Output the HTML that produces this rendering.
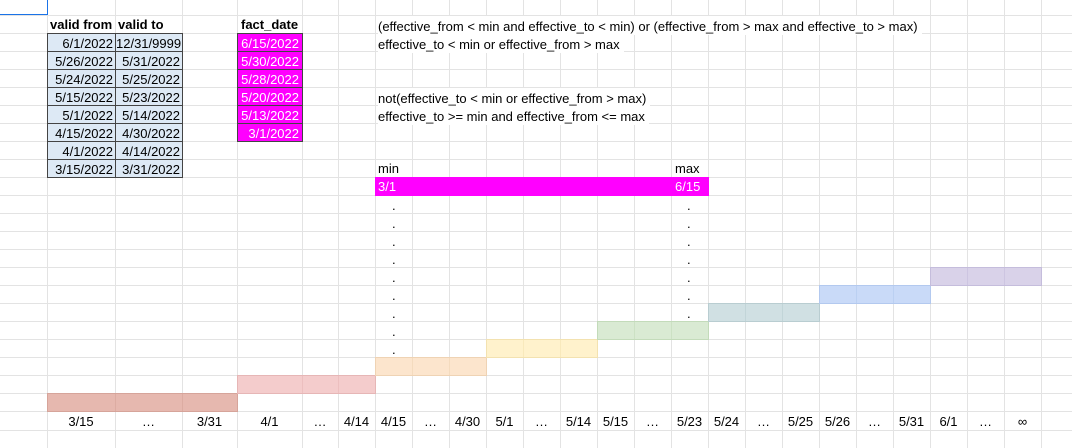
<!DOCTYPE html>
<html><head><meta charset="utf-8"><style>
html,body{margin:0;padding:0;background:#fff;}
#wrap{position:relative;width:1072px;height:448px;overflow:hidden;font-family:"Liberation Sans",sans-serif;font-size:13px;color:#000;}
.gl{position:absolute;background:#e3e3e3;}
.cell{position:absolute;box-sizing:border-box;line-height:18px;white-space:nowrap;}
.txt{position:absolute;line-height:20px;white-space:nowrap;}
</style></head><body>
<div id="wrap"></div>
<script>
const colEdges=[0,47,115,182,237,302,338,375,412,449,486,523,560,597,634,671,708,745,782,819,856,893,930,967,1004,1041,1078];
const tickLabels=["","3/15","…","3/31","4/1","…","4/14","4/15","…","4/30","5/1","…","5/14","5/15","…","5/23","5/24","…","5/25","5/26","…","5/31","6/1","…","∞"];
const barFrom=["3/15","4/1","4/15","5/1","5/15","5/24","5/26","6/1"];
const barTo=["3/31","4/14","4/30","5/14","5/23","5/25","5/31","∞"];
const barColors=["#e6b8af","#f4cccc","#fce5cd","#fff2cc","#d9ead3","#d0e0e3","#c9daf8","#d9d2e9"];
const barBorders=["#d6a49a","#e6b6b6","#efd3b4","#f3e2b0","#c3dbba","#b9cdd1","#b3c9ef","#c5bddc"];
const validFrom=["6/1/2022","5/26/2022","5/24/2022","5/15/2022","5/1/2022","4/15/2022","4/1/2022","3/15/2022"];
const validTo=["12/31/9999","5/31/2022","5/25/2022","5/23/2022","5/14/2022","4/30/2022","4/14/2022","3/31/2022"];
const factDates=["6/15/2022","5/30/2022","5/28/2022","5/20/2022","5/13/2022","3/1/2022"];
const W=document.getElementById('wrap');
function rowTop(k){return k===0?0:(k<=23?15+18*(k-1):(k===24?430:448));}
function colX(i){return colEdges[i];}
function xOf(label){return tickLabels.indexOf(label);}
function add(cls,st,txt){const d=document.createElement('div');d.className=cls;Object.assign(d.style,st);if(txt!==undefined)d.textContent=txt;W.appendChild(d);return d;}
for(let i=1;i<colEdges.length;i++){
 const g=add('gl',{left:colEdges[i]+'px',top:'0px',width:'1px',height:'448px'});
 
 
}
for(let k=1;k<=25;k++){
 const g=add('gl',{left:'0px',top:rowTop(k)+'px',width:'1072px',height:'1px'});
 
 
}
const sel=add('cell',{left:'-2px',top:'-2px',width:'50px',height:'17px',border:'1.5px solid #1a73e8'});


function text(x,y,s,name,bold,extra){const t=add('txt',Object.assign({left:x+'px',top:y+'px',fontWeight:bold?'bold':'normal'},extra||{}),s);return t;}
text(50,15,'valid from','valid-from-header',true);
text(118,15,'valid to','valid-to-header',true);
text(241,15,'fact_date','fact-date-header',true);
for(let r=0;r<validFrom.length;r++){
 const y=rowTop(2+r);
 const c1=add('cell',{left:'47px',top:y+'px',width:'69px',height:'19px',background:'#dde9f5',border:'1px solid #444',textAlign:'right',paddingRight:'2px',lineHeight:'19px'},validFrom[r]);
 
 
 const c2=add('cell',{left:'115px',top:y+'px',width:'68px',height:'19px',background:'#dde9f5',border:'1px solid #444',textAlign:'right',paddingRight:'2px',lineHeight:'19px'},validTo[r]);
 
 
}
for(let r=0;r<factDates.length;r++){
 const y=rowTop(2+r);
 const c=add('cell',{left:'237px',top:y+'px',width:'66px',height:'19px',background:'#ff00ff',color:'#fff',border:'1px solid #444',textAlign:'right',paddingRight:'3px',lineHeight:'19px'},factDates[r]);
 
 
}
const tb={background:'#fff',paddingRight:'4px',lineHeight:'17px',paddingTop:'2px',marginTop:'1px'};
text(378,15,'(effective_from < min and effective_to < min) or (effective_from > max and effective_to > max)','condition-outside',false,tb);
text(378,33,'effective_to < min or effective_from > max','condition-outside-simplified',false,tb);
text(378,87,'not(effective_to < min or effective_from > max)','condition-overlap',false,tb);
text(378,105,'effective_to >= min and effective_from <= max','condition-overlap-simplified',false,tb);
text(378,159,'min','min-label',false);
text(675,159,'max','max-label',false);
const mm=add('cell',{left:'375px',top:'177px',width:'334px',height:'19px',background:'#ff00ff'},'');


text(378,177,'3/1','min-value',false,{color:'#fff'});
text(675,177,'6/15','max-value',false,{color:'#fff'});
for(let k=11;k<=19;k++){text(392,rowTop(k)+1,'.','min-dot',false);}
for(let k=11;k<=17;k++){text(687,rowTop(k)+1,'.','max-dot',false);}
for(let i=0;i<barFrom.length;i++){
 const a=xOf(barFrom[i]),b=xOf(barTo[i]);
 const row=22-i;
 const x0=colX(a),x1=colX(b+1);
 const bar=add('cell',{left:x0+'px',top:rowTop(row)+'px',width:(x1-x0+1)+'px',height:'19px',background:barColors[i],border:'1px solid '+barBorders[i]});
 
 
 for(let c=a+1;c<=b;c++){const s=add('gl',{left:colX(c)+'px',top:rowTop(row)+'px',width:'1px',height:'19px',background:barBorders[i],opacity:'0.6'});
 
 }
}
for(let i=1;i<tickLabels.length;i++){
 const x0=colX(i),x1=colX(i+1);
 const t=add('txt',{left:x0+'px',top:'412px',width:(x1-x0)+'px',textAlign:'center'},tickLabels[i]);
 
 
}
</script>
</body></html>
